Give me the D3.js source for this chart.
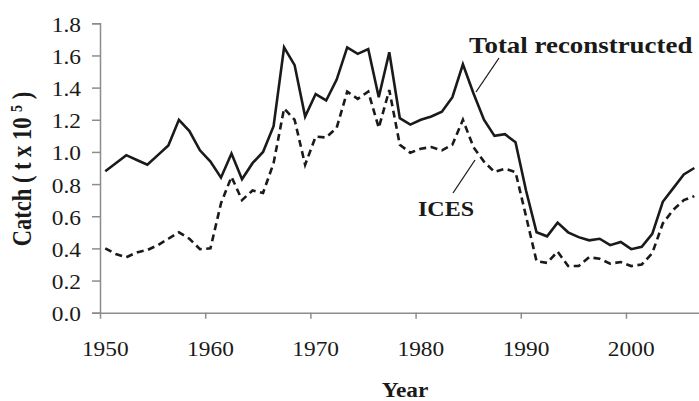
<!DOCTYPE html>
<html>
<head>
<meta charset="utf-8">
<script src="https://cdn.jsdelivr.net/npm/d3@7"></script>
<style>
  html, body { margin: 0; padding: 0; background: #fff; }
  svg { display: block; }
  text { font-family: "Liberation Serif", "Times New Roman", serif; fill: #1a1a1a; }
</style>
</head>
<body>
<div id="chart"></div>
<script>
// Data, catch in 10^5 t
const years = [
  1950, 1951, 1952, 1953, 1954, 1955, 1956, 1957, 1958, 1959,
  1960, 1961, 1962, 1963, 1964, 1965, 1966, 1967, 1968, 1969,
  1970, 1971, 1972, 1973, 1974, 1975, 1976, 1977, 1978, 1979,
  1980, 1981, 1982, 1983, 1984, 1985, 1986, 1987, 1988, 1989,
  1990, 1991, 1992, 1993, 1994, 1995, 1996, 1997, 1998, 1999,
  2000, 2001, 2002, 2003, 2004, 2005, 2006
];
const totalReconstructed = [
  0.88, 0.93, 0.98, 0.95, 0.92, 0.98, 1.04, 1.20, 1.13, 1.01,
  0.94, 0.84, 0.99, 0.83, 0.93, 1.00, 1.16, 1.65, 1.54, 1.22,
  1.36, 1.32, 1.45, 1.65, 1.61, 1.64, 1.34, 1.62, 1.21, 1.17,
  1.20, 1.22, 1.25, 1.34, 1.545, 1.365, 1.20, 1.10, 1.11, 1.06,
  0.76, 0.50, 0.475, 0.56, 0.50, 0.47, 0.45, 0.46, 0.42, 0.44,
  0.395, 0.41, 0.49, 0.69, 0.775, 0.86, 0.90
];
const ices = [
  0.40, 0.365, 0.345, 0.375, 0.39, 0.42, 0.46, 0.50, 0.46, 0.395,
  0.40, 0.68, 0.845, 0.70, 0.76, 0.745, 0.93, 1.27, 1.20, 0.92,
  1.095, 1.09, 1.15, 1.375, 1.33, 1.375, 1.15, 1.385, 1.045, 0.995,
  1.02, 1.03, 1.01, 1.045, 1.20, 1.03, 0.94, 0.875, 0.895, 0.875,
  0.60, 0.32, 0.31, 0.38, 0.29, 0.29, 0.345, 0.335, 0.305, 0.315,
  0.29, 0.30, 0.37, 0.555, 0.64, 0.70, 0.725
];
const yTicks = [0, 0.2, 0.4, 0.6, 0.8, 1.0, 1.2, 1.4, 1.6, 1.8];
const xTickLabels = [1950, 1960, 1970, 1980, 1990, 2000];

const W = 699;
const H = 401;
const AXIS_COLOR = "#8c8c8c";
const INK = "#1a1a1a";
// the original figure is a little stretched sideways, so is its text
const SX = 1.17;

const svg = d3.select("#chart").append("svg")
  .attr("width", W)
  .attr("height", H);

// category axis: each year sits in the middle of its slot
const x = d3.scaleLinear().domain([1949.5, 2006.5]).range([100, 699.6]);
const y = d3.scaleLinear().domain([0, 1.8]).range([312.7, 23.3]);
const slot = x(1951) - x(1950);

function stretchedText(g, px, py, size, bold, anchor, str) {
  return g.append("text")
    .attr("transform", "translate(" + px + "," + py + ") scale(" + SX + ",1)")
    .attr("text-anchor", anchor)
    .attr("font-size", size)
    .attr("font-weight", bold ? "bold" : "normal")
    .text(str);
}

// Y axis
const yAxis = svg.append("g")
  .attr("transform", "translate(100,0)")
  .call(d3.axisLeft(y).tickValues(yTicks).tickSize(8).tickFormat(""));
yAxis.select(".domain").attr("stroke", AXIS_COLOR).attr("stroke-width", 1.5);
yAxis.selectAll(".tick line").attr("stroke", AXIS_COLOR).attr("stroke-width", 1.5);
yTicks.forEach((t) => {
  stretchedText(svg, 81, y(t) + 8.5, 20, false, "end", d3.format(".1f")(t));
});

// X axis: tick marks on slot boundaries, labels centred in the slot
const xAxis = svg.append("g")
  .attr("transform", "translate(0," + y(0) + ")")
  .call(d3.axisBottom(x).tickValues(xTickLabels.map((d) => d - 0.5))
    .tickSizeInner(6).tickSizeOuter(0).tickFormat(""));
xAxis.select(".domain").attr("stroke", AXIS_COLOR).attr("stroke-width", 1.5);
xAxis.selectAll(".tick line").attr("stroke", AXIS_COLOR).attr("stroke-width", 1.5);
xTickLabels.forEach((t) => {
  stretchedText(svg, x(t), 356, 20, false, "middle", t);
});

// Lines
const line = (vals) => d3.line()
  .x((d, i) => x(years[i]))
  .y((d) => y(d))(vals);

svg.append("path")
  .attr("d", line(ices))
  .attr("fill", "none")
  .attr("stroke", INK)
  .attr("stroke-width", 2.6)
  .attr("stroke-dasharray", "7,4.5");

svg.append("path")
  .attr("d", line(totalReconstructed))
  .attr("fill", "none")
  .attr("stroke", INK)
  .attr("stroke-width", 2.6);

// Annotations
stretchedText(svg, 469, 53, 23, true, "start", "Total reconstructed");
svg.append("line")
  .attr("x1", 499).attr("y1", 58)
  .attr("x2", 476).attr("y2", 92)
  .attr("stroke", INK).attr("stroke-width", 1.3);

stretchedText(svg, 418, 216, 20.5, true, "start", "ICES");
svg.append("line")
  .attr("x1", 453).attr("y1", 193)
  .attr("x2", 475).attr("y2", 160)
  .attr("stroke", INK).attr("stroke-width", 1.3);

// Axis titles
stretchedText(svg, 405, 397, 20, true, "middle", "Year");

const yTitle = svg.append("text")
  .attr("transform", "translate(31,169) scale(" + SX + ",1) rotate(-90)")
  .attr("text-anchor", "middle")
  .attr("font-size", 22.5).attr("font-weight", "bold");
yTitle.append("tspan").text("Catch ( t x 10 ");
yTitle.append("tspan").attr("dy", -8).attr("font-size", 14).text("5");
yTitle.append("tspan").attr("dy", 8).text(" )");
</script>
</body>
</html>
